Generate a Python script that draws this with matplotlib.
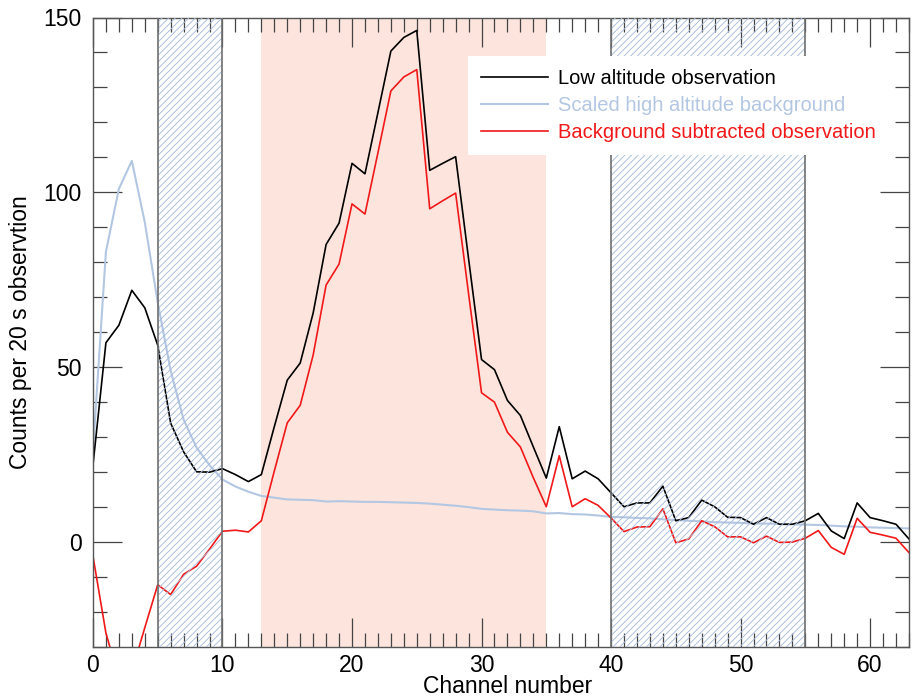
import numpy as np
import matplotlib
matplotlib.use("Agg")
import matplotlib.pyplot as plt
from matplotlib.ticker import MultipleLocator

plt.rcParams['font.family'] = ['Liberation Sans', 'DejaVu Sans']
plt.rcParams['hatch.linewidth'] = 0.65

channels = np.arange(64)

low_altitude = [22, 57, 62, 72, 67, 56.3, 34, 25.8, 20.1, 20,
                21, 19.3, 17.3, 19.3, 33, 46.3, 51.2, 65.5, 85.1, 91.2,
                108.3, 105.3, 122.8, 140.4, 144.3, 146.3, 106.3, 108.3, 110.2, 81,
                52.2, 49.3, 40.5, 36.2, 27.2, 18.3, 33, 18.1, 20.3, 18.1,
                14.1, 10.1, 11.2, 11.2, 16, 6.1, 7, 12, 10.1, 7.1,
                7, 5.1, 7, 5.1, 5.1, 6.1, 8.2, 3.2, 1, 11.2,
                7, 6.1, 5.1, 0.9]

high_altitude_bg = [26, 83, 101, 109, 91.5, 68.5, 49, 35, 27, 22,
                    17.9, 15.9, 14.4, 13.2, 12.7, 12.2, 12.1, 12.0, 11.6, 11.7,
                    11.6, 11.5, 11.5, 11.4, 11.3, 11.2, 11.0, 10.7, 10.4, 10.0,
                    9.5, 9.3, 9.1, 9.0, 8.8, 8.2, 8.3, 8.0, 7.9, 7.6,
                    7.2, 7.1, 6.9, 6.8, 6.5, 6.3, 6.1, 5.9, 5.7, 5.6,
                    5.5, 5.3, 5.3, 5.2, 5.1, 5.0, 4.9, 4.7, 4.5, 4.4,
                    4.2, 4.1, 4.0, 3.9]

bg_subtracted = [-4, -26, -39, -37, -24.5, -12.2, -15, -9.2, -6.9, -2,
                 3.1, 3.4, 2.9, 6.1, 20.3, 34.1, 39.1, 53.5, 73.5, 79.5,
                 96.7, 93.8, 111.3, 129, 133, 135.1, 95.3, 97.6, 99.8, 71,
                 42.7, 40, 31.4, 27.2, 18.4, 10.1, 24.7, 10.1, 12.4, 10.5,
                 6.9, 3, 4.3, 4.4, 9.5, -0.2, 0.9, 6.1, 4.4, 1.5,
                 1.5, -0.2, 1.7, -0.1, 0, 1.1, 3.3, -1.5, -3.5, 6.8,
                 2.8, 2, 1.1, -3]

signal_window = (13, 35)
background_windows = [(5, 10), (40, 55)]

fig = plt.figure(figsize=(9.15, 7.0), dpi=100)
ax = fig.add_axes([0.1016, 0.0757, 0.8918, 0.8993])

# signal integration window
ax.axvspan(*signal_window, facecolor='#fde5dd', edgecolor='none', zorder=0)

# background windows, hatched over the curves
for lo, hi in background_windows:
    ax.axvspan(lo, hi, facecolor='none', edgecolor='#a7bcda', hatch='/////',
               linewidth=0, zorder=3)
    for xv in (lo, hi):
        ax.axvline(xv, color='#6e6e6e', linewidth=1.2, zorder=3.5)

ax.plot(channels, low_altitude, color='black', linewidth=1.2, zorder=2,
        label='Low altitude observation')
ax.plot(channels, high_altitude_bg, color='#b3c7e2', linewidth=1.5, zorder=1.9,
        label='Scaled high altitude background')
ax.plot(channels, bg_subtracted, color='#f01818', linewidth=1.2, zorder=2,
        label='Background subtracted observation')

ax.set_xlim(0, 63)
ax.set_ylim(-30, 150)
ax.xaxis.set_major_locator(MultipleLocator(10))
ax.xaxis.set_minor_locator(MultipleLocator(1))
ax.yaxis.set_major_locator(MultipleLocator(50))
ax.yaxis.set_minor_locator(MultipleLocator(10))
ax.tick_params(which='both', direction='in', top=True, right=True,
               color='#444444', width=0.9, labelsize=16.5)
ax.tick_params(which='major', length=21)
ax.tick_params(which='minor', length=10)
ax.tick_params(axis='x', which='major', pad=5)
ax.tick_params(axis='y', which='major', pad=8)
for sp in ax.spines.values():
    sp.set_color('#555555')
    sp.set_linewidth(1.0)

ax.set_xlabel('Channel number', fontsize=16.5, labelpad=0)
ax.xaxis.set_label_coords(0.508, -0.045, transform=ax.transAxes)
ax.xaxis.label.set_va('top')
ax.set_ylabel('Counts per 20 s observtion', fontsize=16.5, labelpad=8)

leg = ax.legend(loc='upper left', bbox_to_anchor=(0.4596, 0.939),
                borderaxespad=0, frameon=True, fancybox=False,
                fontsize=14.5, handlelength=3.3, handletextpad=0.5,
                borderpad=0.65, labelspacing=0.4)
leg.get_frame().set_facecolor('white')
leg.get_frame().set_edgecolor('none')
leg.get_frame().set_alpha(1)
leg.set_zorder(10)
for txt, line in zip(leg.get_texts(), leg.get_lines()):
    txt.set_color(line.get_color())

fig.savefig('out.png', dpi=100)
